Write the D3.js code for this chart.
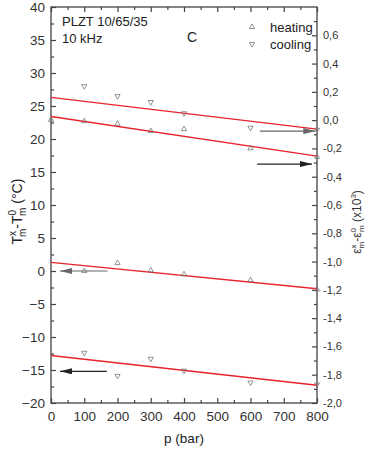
<!DOCTYPE html>
<html>
<head>
<meta charset="utf-8">
<script src="https://cdn.jsdelivr.net/npm/d3@7"></script>
<style>
  body { margin: 0; background: #fff; }
  text { font-family: Arial, "Liberation Sans", sans-serif; }
</style>
</head>
<body>
<svg id="svg" width="368" height="450"></svg>
<script>
// data
const pressure = [0, 100, 200, 300, 400, 600, 800];
const heatUpper = [22.9, 22.7, 22.3, 21.2, 21.5, 18.6, 17.3];
const coolUpper = [null, 28.0, 26.5, 25.6, 23.9, 21.7, 21.4];
const heatLower = [null, 0.0, 1.2, 0.1, -0.5, -1.4, -2.8];
const coolLower = [null, -12.4, -15.9, -13.3, -15.1, -16.9, -17.2];
// fitted lines, [value at p=0, value at p=800]
const fitCoolUpper = [26.3, 21.5];
const fitHeatUpper = [23.4, 17.4];
const fitHeatLower = [1.3, -2.7];
const fitCoolLower = [-12.8, -17.3];
const leftTicks = [-20, -15, -10, -5, 0, 5, 10, 15, 20, 25, 30, 35, 40];
const rightTicks = [-2.0, -1.8, -1.6, -1.4, -1.2, -1.0, -0.8, -0.6, -0.4, -0.2, 0.0, 0.2, 0.4, 0.6];
const xTicks = [0, 100, 200, 300, 400, 500, 600, 700, 800];

const svg = d3.select("#svg");
const M = {left: 51, right: 317, top: 7, bottom: 403};

const x = d3.scaleLinear().domain([0, 800]).range([M.left, M.right]);
const y = d3.scaleLinear().domain([-20, 40]).range([M.bottom, M.top]);
const y2 = d3.scaleLinear().domain([-2.0, 0.8]).range([M.bottom, M.top]);

const AXIS = "#444";

// frame
svg.append("rect")
  .attr("x", M.left).attr("y", M.top)
  .attr("width", M.right - M.left).attr("height", M.bottom - M.top)
  .attr("fill", "none").attr("stroke", AXIS).attr("stroke-width", 1.3);

function styleAxis(g, size) {
  g.select(".domain").remove();
  g.selectAll("line").attr("stroke", AXIS).attr("stroke-width", 1.2);
  g.selectAll("text").attr("fill", "#333").style("font-size", size + "px")
    .style("font-family", "Arial, 'Liberation Sans', sans-serif");
}

// bottom axis
svg.append("g")
  .attr("transform", "translate(0," + M.bottom + ")")
  .call(d3.axisBottom(x).tickValues(xTicks).tickSizeInner(-5).tickPadding(8).tickFormat(d3.format("d")))
  .call(g => styleAxis(g, 13.5));
svg.append("g")
  .attr("transform", "translate(0," + M.bottom + ")")
  .call(d3.axisBottom(x).tickValues(d3.range(50, 800, 100)).tickSizeInner(-3).tickFormat(""))
  .call(g => styleAxis(g, 13));
// top axis ticks
svg.append("g")
  .attr("transform", "translate(0," + M.top + ")")
  .call(d3.axisTop(x).tickValues(xTicks).tickSizeInner(-5).tickFormat(""))
  .call(g => styleAxis(g, 13));
svg.append("g")
  .attr("transform", "translate(0," + M.top + ")")
  .call(d3.axisTop(x).tickValues(d3.range(50, 800, 100)).tickSizeInner(-3).tickFormat(""))
  .call(g => styleAxis(g, 13));

// left axis
svg.append("g")
  .attr("transform", "translate(" + M.left + ",0)")
  .call(d3.axisLeft(y).tickValues(leftTicks).tickSizeInner(-5).tickPadding(6).tickFormat(d3.format("d")))
  .call(g => styleAxis(g, 13.5));
svg.append("g")
  .attr("transform", "translate(" + M.left + ",0)")
  .call(d3.axisLeft(y).tickValues(d3.range(-17.5, 40, 5)).tickSizeInner(-3).tickFormat(""))
  .call(g => styleAxis(g, 13));

// right axis
const commaFmt = v => d3.format(".1f")(v).replace("−", "-").replace(".", ",");
svg.append("g")
  .attr("transform", "translate(" + M.right + ",0)")
  .call(d3.axisRight(y2).tickValues(rightTicks).tickSizeInner(-5).tickPadding(6).tickFormat(commaFmt))
  .call(g => styleAxis(g, 11));
svg.append("g")
  .attr("transform", "translate(" + M.right + ",0)")
  .call(d3.axisRight(y2).tickValues(d3.range(-1.9, 0.8, 0.2)).tickSizeInner(-3).tickFormat(""))
  .call(g => styleAxis(g, 11));

// fit lines
const RED = "#e8232b";
[fitCoolUpper, fitHeatUpper, fitHeatLower, fitCoolLower].forEach(f => {
  svg.append("line")
    .attr("x1", x(0)).attr("y1", y(f[0]))
    .attr("x2", x(800)).attr("y2", y(f[1]))
    .attr("stroke", RED).attr("stroke-width", 1.4);
});

// markers
const up = d3.symbol().type(d3.symbolTriangle).size(12);
function drawSeries(vals, down) {
  svg.append("g").selectAll("path")
    .data(pressure.map((p, i) => [p, vals[i]]).filter(d => d[1] !== null))
    .enter().append("path")
    .attr("d", up)
    .attr("transform", d => "translate(" + x(d[0]) + "," + y(d[1]) + ")" + (down ? " rotate(180)" : ""))
    .attr("fill", "none").attr("stroke", "#777").attr("stroke-width", 0.8);
}
drawSeries(heatUpper, false);
drawSeries(coolUpper, true);
drawSeries(heatLower, false);
drawSeries(coolLower, true);

// arrows
const defs = svg.append("defs");
[["grayhead", "#666"], ["blackhead", "#222"]].forEach(([id, c]) => {
  defs.append("marker").attr("id", id)
    .attr("viewBox", "0 0 12 6").attr("refX", 12).attr("refY", 3)
    .attr("markerWidth", 12).attr("markerHeight", 6).attr("markerUnits", "userSpaceOnUse")
    .attr("orient", "auto")
    .append("path").attr("d", "M0,0 L12,3 L0,6 Z").attr("fill", c);
});
function arrow(p1, v1, p2, v2, head, c) {
  svg.append("line")
    .attr("x1", x(p1)).attr("y1", y(v1)).attr("x2", x(p2)).attr("y2", y(v2))
    .attr("stroke", c).attr("stroke-width", 1.2)
    .attr("marker-end", "url(#" + head + ")");
}
arrow(628, 21.2, 795, 21.2, "grayhead", "#666");
arrow(620, 16.2, 785, 16.2, "blackhead", "#222");
arrow(170, 0, 27, 0, "grayhead", "#666");
arrow(168, -15.2, 27, -15.2, "blackhead", "#222");

// annotations
svg.append("text").attr("x", 62).attr("y", 26).style("font-size", "13px").attr("fill", "#222").text("PLZT 10/65/35");
svg.append("text").attr("x", 62).attr("y", 43).style("font-size", "13px").attr("fill", "#222").text("10 kHz");
svg.append("text").attr("x", 187).attr("y", 42).style("font-size", "14px").attr("fill", "#222").text("C");

// legend
svg.append("path").attr("d", up).attr("transform", "translate(252,27)")
  .attr("fill", "none").attr("stroke", "#777").attr("stroke-width", 0.8);
svg.append("path").attr("d", up).attr("transform", "translate(252,44) rotate(180)")
  .attr("fill", "none").attr("stroke", "#777").attr("stroke-width", 0.8);
svg.append("text").attr("x", 270).attr("y", 32).style("font-size", "13px").attr("fill", "#222").text("heating");
svg.append("text").attr("x", 270).attr("y", 49).style("font-size", "13px").attr("fill", "#222").text("cooling");

// x label
svg.append("text").attr("x", x(400)).attr("y", 443).attr("text-anchor", "middle")
  .style("font-size", "13.5px").attr("fill", "#222").text("p (bar)");

// left y label
const yl = svg.append("text")
  .attr("transform", "translate(22," + y(9) + ") rotate(-90)")
  .attr("text-anchor", "middle").style("font-size", "14px").attr("fill", "#222");
yl.append("tspan").text("T");
yl.append("tspan").attr("dy", -6).style("font-size", "10px").text("x");
yl.append("tspan").attr("dx", -6).attr("dy", 10).style("font-size", "10px").text("m");
yl.append("tspan").attr("dy", -4).text("-T");
yl.append("tspan").attr("dy", -6).style("font-size", "10px").text("0");
yl.append("tspan").attr("dx", -6).attr("dy", 10).style("font-size", "10px").text("m");
yl.append("tspan").attr("dy", -4).text(" (°C)");

// right y label
const yr = svg.append("text")
  .attr("transform", "translate(361," + y2(-0.72) + ") rotate(-90)")
  .attr("text-anchor", "middle").style("font-size", "12px").attr("fill", "#333");
yr.append("tspan").text("ε");
yr.append("tspan").attr("dy", -5).style("font-size", "8px").text("x");
yr.append("tspan").attr("dx", -4).attr("dy", 8).style("font-size", "8px").text("m");
yr.append("tspan").attr("dy", -3).text("-ε");
yr.append("tspan").attr("dy", -5).style("font-size", "8px").text("0");
yr.append("tspan").attr("dx", -4).attr("dy", 8).style("font-size", "8px").text("m");
yr.append("tspan").attr("dy", -3).text(" (x10");
yr.append("tspan").attr("dy", -5).style("font-size", "8px").text("3");
yr.append("tspan").attr("dy", 5).text(")");
</script>
</body>
</html>
